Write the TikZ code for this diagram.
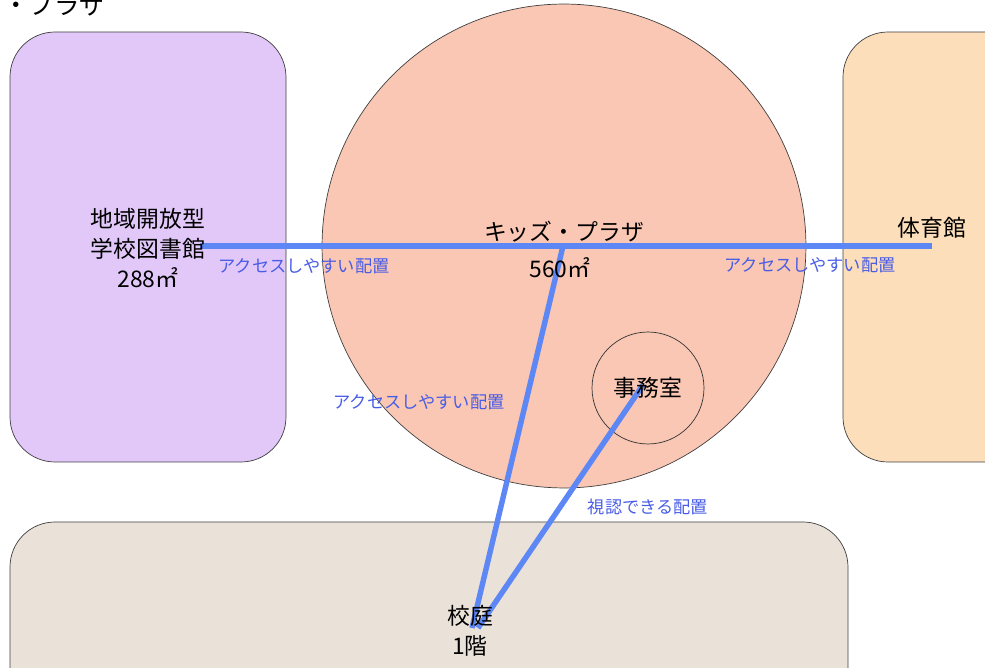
\documentclass[tikz,border=0pt]{standalone}
\usepackage{fontspec}
\setmainfont{Noto Sans CJK JP}
\definecolor{violet1}{RGB}{226,200,248}
\definecolor{saumon}{RGB}{249,199,180}
\definecolor{orange1}{RGB}{253,222,186}
\definecolor{beige1}{RGB}{234,225,216}
\definecolor{bleu1}{RGB}{92,135,245}
\definecolor{bleu2}{RGB}{72,92,230}
\tikzset{
  lien/.style={color=bleu1,line width=3.1pt},
  etiq/.style={color=bleu2,font=\fontsize{9.8}{12}\selectfont},
  nom/.style={font=\fontsize{13}{17}\selectfont,align=center}
}
\begin{document}
\begin{tikzpicture}[x=0.02cm,y=-0.02cm] % une unité = un pixel
\useasboundingbox (0,0) rectangle (985,668);
\node[anchor=west,font=\fontsize{14.5}{16}\selectfont] (titre) at (-3,5) {・プラザ}; % titre coupé en haut
% les zones
\draw[color=black!75,fill=violet1,rounded corners=0.9cm] (10,32) rectangle (286,462);
\draw[color=black!75,fill=orange1,rounded corners=0.9cm] (843,32) rectangle (1100,462);
\draw[color=black!75,fill=beige1,rounded corners=0.9cm] (10,522) rectangle (848,760);
\draw[color=black!75,fill=saumon] (564,246) circle[radius=4.84cm];
\draw[color=black!80] (648,388) circle[radius=1.12cm];
% les points d'accroche
\coordinate (bib) at (200,246);
\coordinate (gym) at (932,246);
\coordinate (kids) at (563,246);
\coordinate (bureau) at (643,385);
\coordinate (cour1) at (472,628);
\coordinate (cour2) at (478,628);
% les liens
\draw[lien] (bib)--(gym);
\draw[lien] (kids)--(cour1);
\draw[lien] (bureau)--(cour2);
% les textes
\node[nom] (biblio) at (148,248) {地域開放型\\学校図書館\\288㎡};
\node[nom] (plaza) at (564,232) {キッズ・プラザ};
\node[nom] (surface) at (560,268) {560㎡};
\node[nom] (gymnase) at (932,228) {体育館};
\node[nom] (office) at (648,388) {事務室};
\node[nom] (cour) at (470,631) {校庭\\1階};
\node[etiq] (acces1) at (304,266) {アクセスしやすい配置};
\node[etiq] (acces2) at (810,265) {アクセスしやすい配置};
\node[etiq] (acces3) at (419,402) {アクセスしやすい配置};
\node[etiq] (vue) at (648,507) {視認できる配置};
\end{tikzpicture}
\end{document}
